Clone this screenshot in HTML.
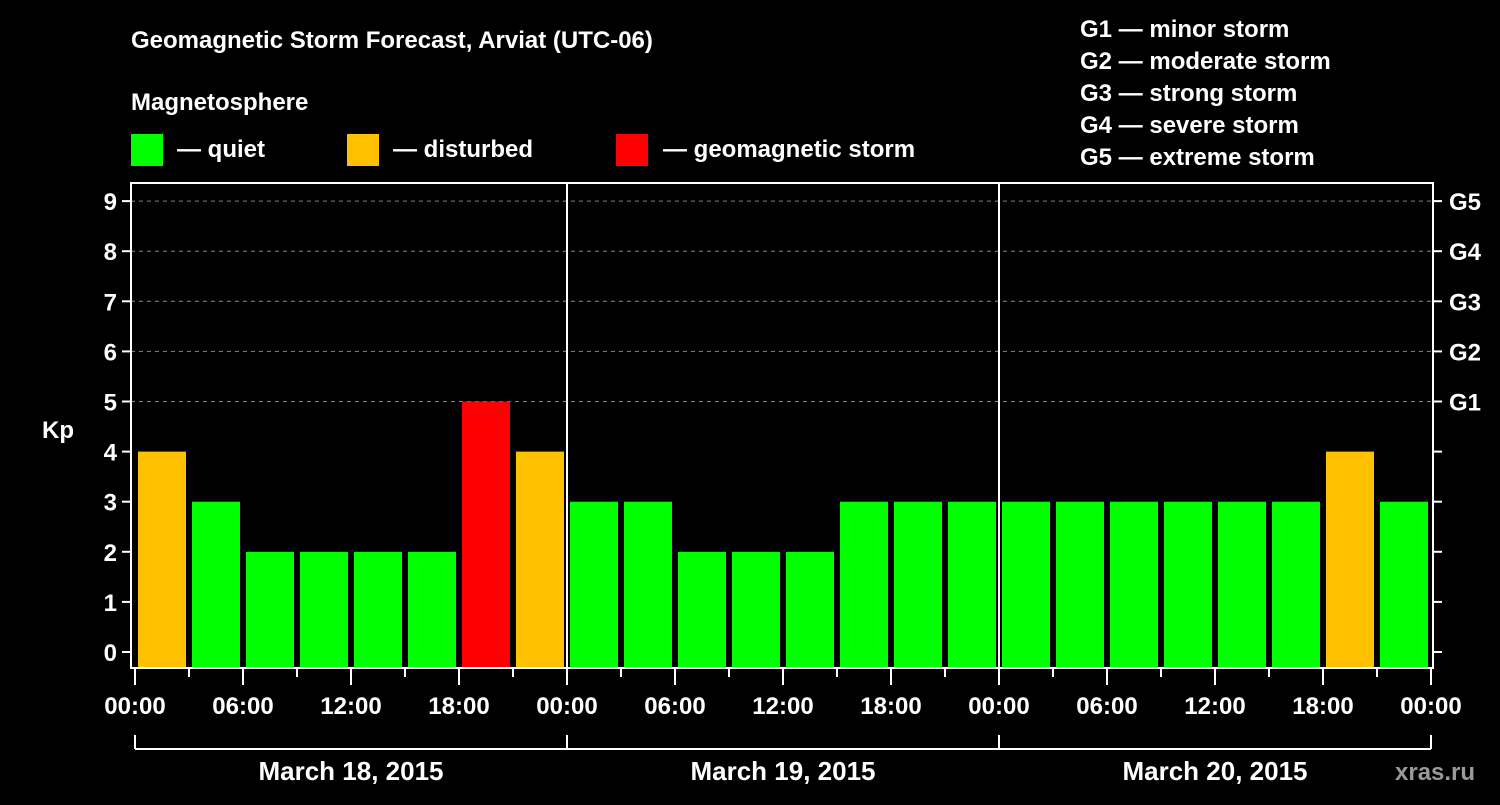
<!DOCTYPE html>
<html><head><meta charset="utf-8"><style>
html,body{margin:0;padding:0;background:#000;}
svg text{font-family:"Liberation Sans",sans-serif;font-weight:bold;fill:#fff;}
</style></head><body>
<svg id="chart" width="1500" height="800" viewBox="0 0 1500 800" xmlns="http://www.w3.org/2000/svg">
<rect width="1500" height="800" fill="#000"/>
<text x="131" y="48" font-size="24">Geomagnetic Storm Forecast, Arviat (UTC-06)</text>
<text x="131" y="110" font-size="24">Magnetosphere</text>
<g>
<rect x="131" y="134" width="32" height="32" fill="#00ff00"/>
<text x="177" y="157" font-size="24">— quiet</text>
<rect x="347" y="134" width="32" height="32" fill="#ffc000"/>
<text x="393" y="157" font-size="24">— disturbed</text>
<rect x="616" y="134" width="32" height="32" fill="#ff0000"/>
<text x="663" y="157" font-size="24">— geomagnetic storm</text>
</g>
<g font-size="24">
<text x="1080" y="37">G1 — minor storm</text>
<text x="1080" y="69">G2 — moderate storm</text>
<text x="1080" y="101">G3 — strong storm</text>
<text x="1080" y="133">G4 — severe storm</text>
<text x="1080" y="165">G5 — extreme storm</text>
</g>
<text x="42" y="438" font-size="24">Kp</text>
<text x="1395" y="780" font-size="24" fill="#aaa" style="fill:#9a9a9a">xras.ru</text>
<g id="grid"></g><g id="bars"></g><g id="axes"></g>
</svg>
<script>
const days = ["March 18, 2015","March 19, 2015","March 20, 2015"];
const kpValues = [4,3,2,2,2,2,5,4, 3,3,2,2,2,3,3,3, 3,3,3,3,3,3,4,3];
const yTicks = [0,1,2,3,4,5,6,7,8,9];
const gLabels = ["G1","G2","G3","G4","G5"];
const hourLabels = ["00:00","06:00","12:00","18:00"];

const NS="http://www.w3.org/2000/svg";
const x0=135, pxPerHour=18, yBase=652, pxPerKp=50.1, plotTop=183, plotBottom=668, plotLeft=131, plotRight=1433;
const xScale=h=>x0+h*pxPerHour;
const yScale=v=>yBase-v*pxPerKp;
function mk(tag,attrs,parent){const e=document.createElementNS(NS,tag);for(const k in attrs)e.setAttribute(k,attrs[k]);parent.appendChild(e);return e;}
const grid=document.getElementById('grid'),bars=document.getElementById('bars'),axes=document.getElementById('axes');

yTicks.forEach(v=>{
  const y=yScale(v);
  if(v>=5){const l=mk('line',{x1:plotLeft,x2:plotRight,y1:y,y2:y,stroke:'#888','stroke-width':1,'stroke-dasharray':'4,4'},grid);
    
    }
  const t=mk('line',{x1:plotLeft-9,x2:plotLeft,y1:y,y2:y,stroke:'#fff','stroke-width':2},axes);
  
  
  const tr=mk('line',{x1:plotRight,x2:plotRight+9,y1:y,y2:y,stroke:'#fff','stroke-width':2},axes);
  
  
  const lb=mk('text',{x:plotLeft-14,y:y+9,'font-size':24,'text-anchor':'end'},axes);
  lb.textContent=v;
  
  
});
gLabels.forEach((g,i)=>{
  const lb=mk('text',{x:plotRight+16,y:yScale(5+i)+9,'font-size':24},axes);
  lb.textContent=g;
  
  
});
kpValues.forEach((v,i)=>{
  const c=v>=5?'#ff0000':(v>=4?'#ffc000':'#00ff00');
  const x=xScale(i*3)+3;
  const r=mk('rect',{x:x,y:yScale(v),width:48,height:plotBottom-yScale(v),fill:c},bars);
  
  
});
// axes frame
const fr=mk('rect',{x:plotLeft,y:plotTop,width:plotRight-plotLeft,height:plotBottom-plotTop,fill:'none',stroke:'#fff','stroke-width':2},axes);


for(let h=0;h<=72;h+=3){
  const x=xScale(h);
  const major=h%6===0;
  const t=mk('line',{x1:x,x2:x,y1:plotBottom,y2:plotBottom+(major?17:9),stroke:'#fff','stroke-width':2},axes);
  
  
  if(major){
    const lb=mk('text',{x:x,y:714,'font-size':24,'text-anchor':'middle'},axes);
    lb.textContent=hourLabels[(h/6)%4];
    
    
  }
}
days.forEach((d,i)=>{
  const xa=xScale(i*24),xb=xScale((i+1)*24);
  if(i>0){const s=mk('line',{x1:xa,x2:xa,y1:plotTop,y2:plotBottom,stroke:'#fff','stroke-width':2},axes);
    
    }
  mk('line',{x1:xa,x2:xa,y1:735,y2:749,stroke:'#fff','stroke-width':2},axes);
  mk('line',{x1:xa,x2:xb,y1:749,y2:749,stroke:'#fff','stroke-width':2},axes);
  const lb=mk('text',{x:(xa+xb)/2,y:780,'font-size':26,'text-anchor':'middle'},axes);
  lb.textContent=d;
  
  
});
mk('line',{x1:xScale(72),x2:xScale(72),y1:735,y2:749,stroke:'#fff','stroke-width':2},axes);
</script>
</body></html>
